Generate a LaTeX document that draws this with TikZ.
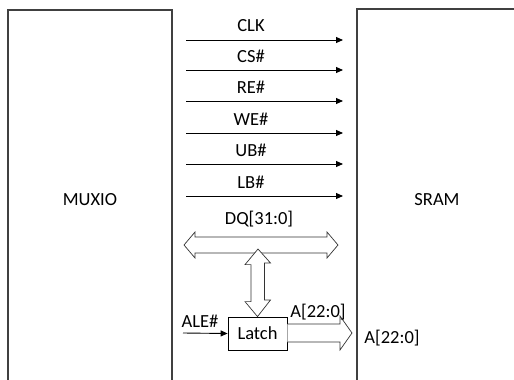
\documentclass[tikz,border=0pt]{standalone}
\usepackage{fontspec}
\setmainfont{Carlito}
\usetikzlibrary{arrows.meta,calc}
\begin{document}
\begin{tikzpicture}[x=1pt,y=-1pt,
  lbl/.style={font=\fontsize{18.5}{20}\selectfont, inner sep=0pt},
  sig/.style={draw=black, line width=0.9pt, -{Triangle[length=7pt,width=6pt]}},
  fat/.style={draw=black!80, line width=0.7pt, fill=white},
  blk/.style={draw=black!75, line width=1.3pt}]
\useasboundingbox (0,0) rectangle (514,380);
% blocks (open at the bottom)
\draw[blk] (8,400) -- (8,10) -- (172,10) -- (172,400);
\draw[blk] (357,400) -- (357,9) -- (530,9);
\node[lbl] (muxio) at (90,200) {MUXIO};
\node[lbl] (sram) at (437,200) {SRAM};
% signals
\foreach \n/\y/\t in {clk/40/CLK, cs/70/CS\#, re/101/RE\#, we/133/WE\#, ub/164/UB\#, lb/196/LB\#}{
  \coordinate (\n s) at (186,\y);
  \coordinate (\n e) at (343,\y);
  \draw[sig] (\n s) -- (\n e);
  \node[lbl] (\n l) at (251,\y-14) {\t};
}
% DQ bus
\node[lbl] (dql) at (259,219) {DQ[31:0]};
\coordinate (dqL) at (184,245);
\coordinate (dqR) at (338,245);
\draw[fat] (dqL) -- ++(11,-13) -- ++(0,5) -- ($(dqR)+(-11,-8)$) -- ++(0,-5) -- (dqR)
  -- ++(-11,13) -- ++(0,-5) -- ($(dqL)+(11,8)$) -- ++(0,5) -- cycle;
% latch
\node[draw=black, line width=0.8pt, minimum width=59pt, minimum height=33pt, lbl] (latch) at (257.5,333.5) {Latch};
\coordinate (vT) at (258,249);
\draw[fat] (vT) -- ++(12.5,14) -- ++(-6,0) -- ++(0,37) -- ++(6,0) -- (latch.north)
  -- ++(-12.5,-15) -- ++(6,0) -- ++(0,-37) -- ++(-6,0) -- cycle;
% ALE#
\coordinate (ale) at (183,333);
\draw[sig] (ale) -- (latch.west);
\node[lbl] (alel) at (200,321) {ALE\#};
% A bus
\coordinate (aT) at (352,333);
\draw[fat] (latch.east |- 0,324) -- (340,324) -- (340,316) -- (aT) -- (340,350) -- (340,342) -- (latch.east |- 0,342);
\node[lbl] (al) at (318,312) {A[22:0]};
\node[lbl] (ar) at (392,338) {A[22:0]};
\end{tikzpicture}
\end{document}
